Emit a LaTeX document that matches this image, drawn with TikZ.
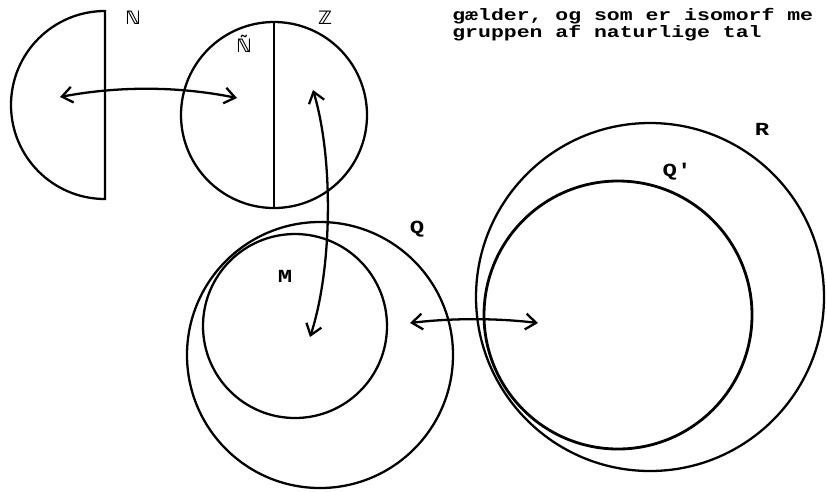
\documentclass[tikz,border=0pt]{standalone}
\usepackage{fontspec}
\newfontfamily\typer{Liberation Mono}[FakeStretch=1.3]
\newfontfamily\dsym{DejaVu Sans}
\usetikzlibrary{arrows.meta}

\tikzset{
    ring/.style={line width=1.3pt},
    link/.style={line width=1.3pt,
        {Straight Barb[length=6pt,width=9pt]}-{Straight Barb[length=6pt,width=9pt]}},
    lbl/.style={font=\typer\bfseries\fontsize{10.5}{10.5}\selectfont, inner sep=0pt},
    dbl/.style={font=\dsym\bfseries\fontsize{10.5}{10.5}\selectfont, inner sep=0pt},
    typed/.style={font=\typer\bfseries\fontsize{9.4}{10}\selectfont,
        anchor=base west, inner sep=0pt}
}

\begin{document}
\begin{tikzpicture}[x=0.02cm,y=-0.02cm]
\useasboundingbox (0,0) rectangle (827,491);

% Typed text, top right
\node[typed] (line1) at (452,20) {gælder, og som er isomorf me};
\node[typed] (line2) at (452,37) {gruppen af naturlige tal};

% Half disc N
\draw[ring] (105,11) arc (270:90:94) -- cycle;
\node[dbl] (nat) at (133,18) {ℕ};

% Disc Z, cut in two
\draw[ring] (274,115) circle (93);
\draw[ring] (274,22) -- (274,208);
\node[dbl] (int) at (325,18) {ℤ};
\node[dbl] (natt) at (244,44) {\~{ℕ}};

% Q with M inside
\draw[ring] (320,355) circle (133);
\draw[ring] (295,326) circle (92);
\node[lbl] (rat) at (417,229) {Q};
\node[lbl] (emm) at (285,276) {M};

% R with Q' inside
\draw[ring] (650,297) circle (174);
\draw[line width=1.6pt] (618,315) circle (134);
\node[lbl] (real) at (762,129) {R};
\node[lbl] (ratp) at (677,172) {Q'};

% Arrows
\coordinate (nA) at (60,97);
\coordinate (nB) at (237,98);
\draw[link] (nA) .. controls (118,86) and (178,86) .. (nB);

\coordinate (zA) at (313,90);
\coordinate (mA) at (310,337);
\draw[link] (zA) .. controls (334,160) and (332,270) .. (mA);

\coordinate (qA) at (410,323);
\coordinate (rA) at (538,323);
\draw[link] (qA) .. controls (452,318) and (496,318) .. (rA);

\end{tikzpicture}
\end{document}
